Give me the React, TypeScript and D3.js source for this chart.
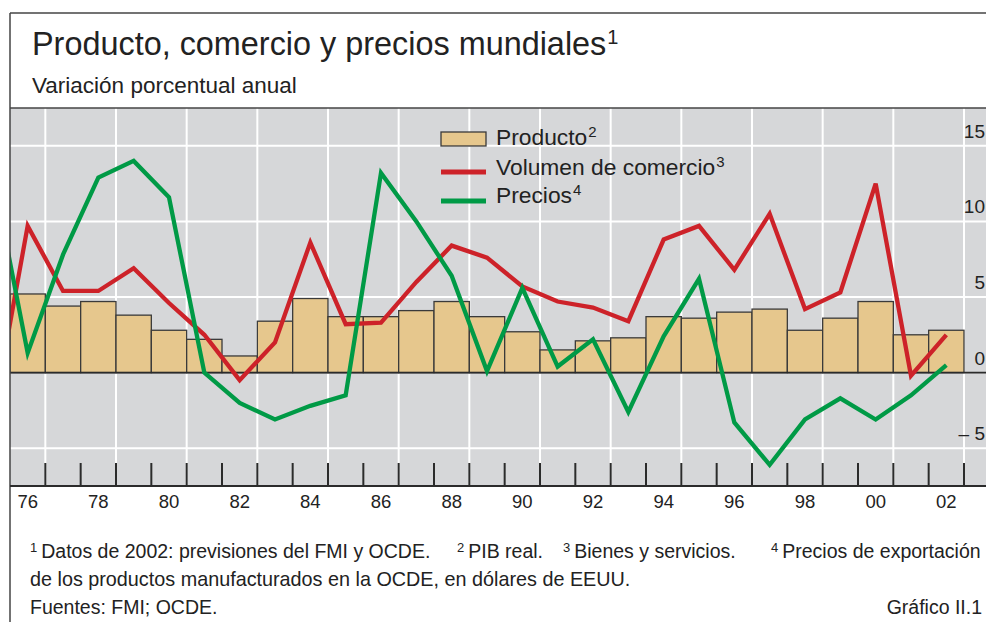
import { useEffect, useRef } from 'react'
import * as d3 from 'd3'

// annual % change
const years = [1976, 1977, 1978, 1979, 1980, 1981, 1982, 1983, 1984, 1985, 1986, 1987, 1988, 1989,
  1990, 1991, 1992, 1993, 1994, 1995, 1996, 1997, 1998, 1999, 2000, 2001, 2002]
const producto = [5.2, 4.4, 4.7, 3.8, 2.8, 2.2, 1.1, 3.4, 4.9, 3.7, 3.7, 4.1, 4.7, 3.7,
  2.7, 1.5, 2.1, 2.3, 3.7, 3.6, 4.0, 4.2, 2.8, 3.6, 4.7, 2.5, 2.8]

// lines start in 1975 (clipped at the left edge)
const lineYears = [1975, 1976, 1977, 1978, 1979, 1980, 1981, 1982, 1983, 1984, 1985, 1986, 1987, 1988,
  1989, 1990, 1991, 1992, 1993, 1994, 1995, 1996, 1997, 1998, 1999, 2000, 2001, 2002]
const volumen = [-3.2, 9.7, 5.4, 5.4, 6.9, 4.6, 2.5, -0.5, 2.0, 8.6, 3.2, 3.3, 6.0, 8.4,
  7.6, 5.7, 4.7, 4.3, 3.4, 8.8, 9.7, 6.8, 10.5, 4.2, 5.3, 12.5, -0.2, 2.5]
const precios = [13.3, 1.3, 7.8, 12.9, 14.0, 11.6, 0.0, -2.0, -3.1, -2.2, -1.5, 13.2, 10.0, 6.4,
  0.1, 5.6, 0.4, 2.2, -2.6, 2.4, 6.2, -3.3, -6.1, -3.1, -1.7, -3.1, -1.5, 0.5]

const yTicks = [-5, 0, 5, 10, 15]
const xLabelYears = [1976, 1978, 1980, 1982, 1984, 1986, 1988, 1990, 1992, 1994, 1996, 1998, 2000, 2002]

const FONT = '"Liberation Sans", Arial, Helvetica, sans-serif'
const GREY_BG = '#d6d7d9'
const BAR = '#e6c78d'
const RED = '#cd2229'
const GREEN = '#009a46'
const DARK = '#2b2b2b'
const TEXT = '#222'

export default function App() {
  const svgRef = useRef<SVGSVGElement>(null)
  const width = 986
  const height = 622

  useEffect(() => {
    if (!svgRef.current) return
    const svg = d3.select(svgRef.current)
    svg.selectAll('*').remove()

    const plot = { left: 10, right: 1000, top: 108, bottom: 486 }

    const x = d3.scaleLinear().domain([1975.5, 2002.5]).range([10, 964])
    const y = d3.scaleLinear().domain([-7.5, 17.5]).range([plot.bottom, plot.top])

    svg.append('rect').attr('width', width).attr('height', height).attr('fill', '#fff')

    svg.append('defs').append('clipPath').attr('id', 'plot-clip')
      .append('rect')
      .attr('x', plot.left).attr('y', plot.top)
      .attr('width', plot.right - plot.left).attr('height', plot.bottom - plot.top)

    // background
    svg.append('rect')
      .attr('x', plot.left).attr('y', plot.top)
      .attr('width', plot.right - plot.left).attr('height', plot.bottom - plot.top)
      .attr('fill', GREY_BG)

    const g = svg.append('g').attr('clip-path', 'url(#plot-clip)')

    // grid
    g.selectAll('.hgrid')
      .data(yTicks.filter(d => d !== 0))
      .join('line')
      .attr('x1', plot.left).attr('x2', plot.right)
      .attr('y1', d => y(d)).attr('y2', d => y(d))
      .attr('stroke', '#fff').attr('stroke-width', 2)

    const boundaries = [...years.slice(1), 2003]
    g.selectAll('.vgrid')
      .data(boundaries.filter(d => d % 2 === 1))
      .join('line')
      .attr('x1', d => x(d - 0.5)).attr('x2', d => x(d - 0.5))
      .attr('y1', plot.top).attr('y2', plot.bottom)
      .attr('stroke', '#fff').attr('stroke-width', 2)

    // bars
    g.selectAll('.bar')
      .data(years)
      .join('rect')
      .attr('x', d => x(d - 0.5))
      .attr('width', d => x(d + 0.5) - x(d - 0.5))
      .attr('y', (_, i) => y(producto[i]))
      .attr('height', (_, i) => y(0) - y(producto[i]))
      .attr('fill', BAR)
      .attr('stroke', '#3a3a3a')
      .attr('stroke-width', 1.3)

    g.append('line')
      .attr('x1', plot.left).attr('x2', plot.right)
      .attr('y1', y(0)).attr('y2', y(0))
      .attr('stroke', DARK).attr('stroke-width', 1.6)

    // ticks
    g.selectAll('.tick')
      .data(boundaries)
      .join('line')
      .attr('x1', d => x(d - 0.5)).attr('x2', d => x(d - 0.5))
      .attr('y1', plot.bottom - 23).attr('y2', plot.bottom)
      .attr('stroke', DARK).attr('stroke-width', 2)

    const line = d3.line<number>()
      .x((_, i) => x(lineYears[i]))
      .y(d => y(d))

    g.append('path')
      .datum(volumen)
      .attr('fill', 'none').attr('stroke', RED).attr('stroke-width', 4.3)
      .attr('stroke-linejoin', 'miter').attr('d', line)

    g.append('path')
      .datum(precios)
      .attr('fill', 'none').attr('stroke', GREEN).attr('stroke-width', 4.3)
      .attr('stroke-linejoin', 'miter').attr('d', line)

    // y labels on the right
    svg.selectAll('.ylab')
      .data(yTicks)
      .join('text')
      .attr('x', 985)
      .attr('y', d => y(d) - 8)
      .attr('text-anchor', 'end')
      .style('font-family', FONT)
      .style('font-size', '19px')
      .attr('fill', TEXT)
      .text(d => (d < 0 ? `– ${Math.abs(d)}` : `${d}`))

    // legend
    const lg = svg.append('g')
    lg.append('rect')
      .attr('x', 441).attr('y', 132).attr('width', 45).attr('height', 14)
      .attr('fill', BAR).attr('stroke', '#3a3a3a').attr('stroke-width', 1.3)
    lg.append('line').attr('x1', 441).attr('x2', 486).attr('y1', 172).attr('y2', 172)
      .attr('stroke', RED).attr('stroke-width', 5)
    lg.append('line').attr('x1', 441).attr('x2', 486).attr('y1', 201).attr('y2', 201)
      .attr('stroke', GREEN).attr('stroke-width', 5)
    const legendItems = [
      { label: 'Producto', sup: '2', y: 145 },
      { label: 'Volumen de comercio', sup: '3', y: 175 },
      { label: 'Precios', sup: '4', y: 203 },
    ]
    legendItems.forEach(item => {
      const t = lg.append('text')
        .attr('x', 496).attr('y', item.y)
        .style('font-family', FONT).style('font-size', '22.8px').attr('fill', TEXT)
      t.append('tspan').text(item.label)
      t.append('tspan').attr('dx', 1).attr('dy', -8).style('font-size', '15px').text(item.sup)
    })

    // frame
    svg.append('line').attr('x1', 10).attr('x2', width).attr('y1', 13).attr('y2', 13)
      .attr('stroke', '#444').attr('stroke-width', 1.5)
    svg.append('line').attr('x1', 10).attr('x2', 10).attr('y1', 13).attr('y2', height)
      .attr('stroke', '#444').attr('stroke-width', 1.5)
    svg.append('line').attr('x1', 10).attr('x2', width).attr('y1', plot.top).attr('y2', plot.top)
      .attr('stroke', '#444').attr('stroke-width', 1.5)
    svg.append('line').attr('x1', 10).attr('x2', width).attr('y1', plot.bottom).attr('y2', plot.bottom)
      .attr('stroke', DARK).attr('stroke-width', 2)

    // title
    const title = svg.append('text')
      .attr('x', 32).attr('y', 55)
      .style('font-family', FONT).style('font-size', '32.4px').attr('fill', TEXT)
    title.append('tspan').text('Producto, comercio y precios mundiales')
    title.append('tspan').attr('dx', 1).attr('dy', -11).style('font-size', '20px').text('1')

    svg.append('text')
      .attr('x', 32).attr('y', 93)
      .style('font-family', FONT).style('font-size', '22.5px').attr('fill', TEXT)
      .text('Variación porcentual anual')

    // x labels
    svg.selectAll('.xlab')
      .data(xLabelYears)
      .join('text')
      .attr('x', d => x(d))
      .attr('y', 508)
      .attr('text-anchor', 'middle')
      .style('font-family', FONT).style('font-size', '18.5px').attr('fill', TEXT)
      .text(d => String(d % 100).padStart(2, '0'))

    // footnotes
    const notes = [
      { sup: '1', text: 'Datos de 2002: previsiones del FMI y OCDE.', x: 30 },
      { sup: '2', text: 'PIB real.', x: 457 },
      { sup: '3', text: 'Bienes y servicios.', x: 563 },
      { sup: '4', text: 'Precios de exportación', x: 771 },
    ]
    notes.forEach(n => {
      const t = svg.append('text')
        .attr('x', n.x).attr('y', 558)
        .style('font-family', FONT).style('font-size', '19.5px').attr('fill', TEXT)
      t.append('tspan').attr('dy', -6).style('font-size', '13px').text(n.sup)
      t.append('tspan').attr('dy', 6).attr('dx', 4).text(n.text)
    })
    svg.append('text')
      .attr('x', 30).attr('y', 586)
      .style('font-family', FONT).style('font-size', '19.8px').attr('fill', TEXT)
      .text('de los productos manufacturados en la OCDE, en dólares de EEUU.')
    svg.append('text')
      .attr('x', 30).attr('y', 614)
      .style('font-family', FONT).style('font-size', '19.5px').attr('fill', TEXT)
      .text('Fuentes: FMI; OCDE.')
    svg.append('text')
      .attr('x', 982).attr('y', 614)
      .attr('text-anchor', 'end')
      .style('font-family', FONT).style('font-size', '19.5px').attr('fill', TEXT)
      .text('Gráfico II.1')
  }, [])

  return (
    <svg
      ref={svgRef}
      width={width}
      height={height}
      style={{ position: 'absolute', left: 0, top: 0, display: 'block' }}
    />
  )
}
